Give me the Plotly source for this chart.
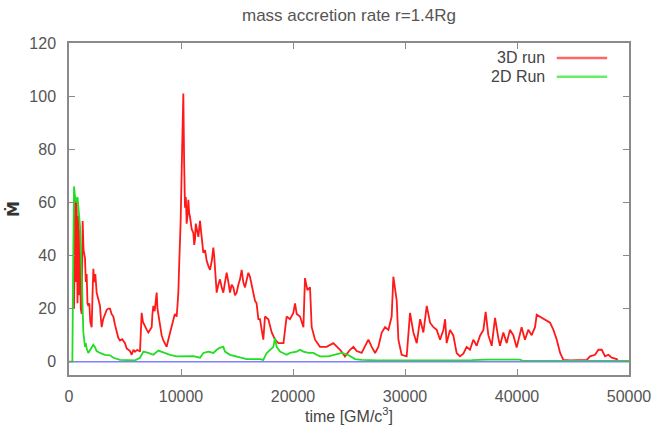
import plotly.graph_objects as go

# ---- data ----
red_t = [450, 500, 540, 600, 685, 760, 833, 900, 980, 1050, 1131, 1220, 1300, 1429, 1500, 1577, 1650, 1726,
         1815, 1900, 2024, 2100, 2173, 2250, 2350, 2470, 2600, 2768, 2850, 2917, 3050, 3200, 3363, 3500,
         3661, 3800, 3958, 4100, 4256, 4400, 4554, 4750, 5000, 5150, 5298, 5450, 5596, 5750, 5893, 6100,
         6340, 6420, 6488, 6600, 6786, 6950, 7084, 7250, 7381, 7450, 7530, 7650, 7827, 7900, 7976, 8050,
         8125, 8270, 8423, 8550, 8720, 8850, 9018, 9150, 9316, 9450, 9613, 9700, 9762, 9850, 9970, 10100,
         10208, 10280, 10357, 10430, 10506, 10580, 10655, 10730, 10804, 10950, 11101, 11180, 11250, 11320,
         11399, 11550, 11696, 11770, 11845, 11920, 11994, 12150, 12292, 12450, 12589, 12750, 12887, 12960,
         13036, 13110, 13185, 13330, 13482, 13630, 13780, 13930, 14077, 14230, 14375, 14520, 14673, 14820,
         14970, 15120, 15268, 15417, 15560, 15714, 15860, 16012, 16160, 16310, 16450, 16607, 16750, 16905,
         17050, 17350, 17500, 17800, 18100, 18400, 18700, 19150, 19430, 19730, 20030, 20180, 20330, 20630,
         20930, 21070, 21280, 21520, 21670, 21970, 22410, 23000, 23600, 23900, 24200, 24640, 25090, 25390,
         25690, 26130, 26430, 26730, 27030, 27330, 27620, 27920, 28220, 28520, 28810, 28960, 29260, 29410,
         29700, 30150, 30450, 30750, 31050, 31350, 31640, 31940, 32240, 32540, 32830, 33130, 33430, 33580,
         33720, 34020, 34320, 34610, 34910, 35210, 35500, 35800, 36100, 36400, 36700, 37000, 37200, 37440,
         37740, 38040, 38330, 38480, 38780, 39080, 39370, 39670, 39970, 40410, 40710, 41010, 41310, 41610,
         41760, 42050, 42500, 42950, 43250, 43550, 43850, 44140, 44740, 45630, 46230, 46520, 46970, 47270,
         47570, 47860, 48160, 48460, 48900, 49060]
red_v = [20, 45, 62, 30, 60, 22, 55, 25, 50, 20, 18, 53, 42, 39, 30, 33, 22, 21,
         22, 15, 13, 25, 35, 30, 33, 26, 24, 21, 16, 13, 16, 18, 19.5, 20,
         20, 18, 17, 14, 11, 9, 8, 8.5, 7, 5, 4.5, 4, 2.6, 4.5, 3.8, 4.5,
         3.8, 10, 18.4, 15, 13, 12, 11, 12, 13, 18, 21, 19, 26, 20, 18, 16,
         13, 10, 8, 7, 5.6, 8, 11, 14, 15.8, 18, 17, 22, 26, 38, 53, 80,
         101, 75, 58, 62, 52, 55, 61, 56, 54.5, 50, 48.5, 44, 46, 52,
         50, 47, 53, 50, 48.5, 44, 41, 42, 38, 36, 34.6, 38, 43, 40,
         34.6, 30, 26, 29, 31, 28, 26, 30, 33.5, 30, 26, 29, 28, 25,
         26, 29, 31, 34.6, 30, 28, 31, 33.5, 32, 29, 26, 23, 22, 16,
         16, 8.3, 17, 16, 11, 8.3, 7, 7, 17, 16, 18.4, 22, 18, 17,
         13, 31.5, 27, 28, 13, 8.3, 5.6, 5.6, 7, 5.6, 4.5, 2, 4.5, 5.6,
         4, 3.3, 5.6, 8.3, 5.6, 3.3, 5.6, 11, 13, 12, 17, 32, 23, 8.3,
         2.6, 2, 18.4, 11, 7, 16, 11, 21, 14.7, 13, 12, 8.3, 12, 16,
         7, 12, 9.8, 3.3, 2, 3, 5.6, 4.5, 8.3, 6, 9.8, 12, 18.8, 10,
         6, 16.5, 9, 6, 11, 7, 12, 10, 5.3, 13, 8.3, 12, 10, 13,
         17.7, 17, 16, 14.7, 12, 8.3, 3.3, 0.7, 0.5, 0.5, 0.7, 2, 2.6, 4.5,
         4.5, 2, 2.6, 1.5, 1, 0]

green_t = [0, 300, 380, 450, 540, 650, 760, 833, 983, 1130, 1280, 1430, 1500, 1580, 1726, 1900, 2024,
           2173, 2320, 2470, 2768, 3200, 3660, 3960, 4550, 5000, 5900, 6340, 6640, 7080, 7530, 7980,
           8420, 9020, 9610, 10200, 11100, 11700, 12000, 12440, 12890, 13190, 13480, 13780, 13930,
           14380, 14970, 15860, 17050, 17350, 17650, 17950, 18250, 18390, 18540, 18840, 19140, 19430,
           19730, 20330, 20630, 20930, 21370, 21820, 22110, 22410, 23160, 23750, 24350, 24940, 25540,
           26130, 27500, 30000, 33000, 36000, 37400, 40270, 40500, 50000]
green_v = [0, 0, 40, 66, 62, 60, 62, 58, 51, 33, 11, 5.6, 7, 5, 3.3, 4.5, 5.3,
           6.4, 5.5, 4, 3.3, 2.6, 2.4, 1.5, 0.7, 0.6, 0.5, 1.5, 3.8, 3.3, 2.6, 4.2,
           3.5, 2.6, 2, 2, 2.1, 1.5, 3.3, 3.8, 3.3, 4.5, 5.3, 5.6, 3.8,
           2.6, 2, 1, 1, 0.7, 3.3, 4.5, 5.6, 9, 5.6, 3.8, 3.3, 2.6,
           3.3, 3.8, 4.5, 3.8, 3.3, 3.3, 2.6, 2, 2, 2.6, 3.3, 2.5, 1,
           0.7, 0.5, 0.5, 0.5, 0.6, 0.8, 0.8, 0.3, 0.3]

blue_t = [0, 50000]
blue_v = [0, 0]

x_ticks = [0, 10000, 20000, 30000, 40000, 50000]
y_ticks = [0, 20, 40, 60, 80, 100, 120]

FONT = "Liberation Sans, Arial, sans-serif"
AXIS_COL = "#8a8a8a"
TXT_COL = "#555555"

fig = go.Figure()
fig.add_trace(go.Scatter(x=red_t, y=red_v, mode="lines", name="3D run",
                         line=dict(color="#ff1a1a", width=1.8), showlegend=False))
fig.add_trace(go.Scatter(x=green_t, y=green_v, mode="lines", name="2D Run",
                         line=dict(color="#22dd22", width=1.8), showlegend=False))
fig.add_trace(go.Scatter(x=blue_t, y=blue_v, mode="lines", name="zero",
                         line=dict(color="#7f7fff", width=1.5), showlegend=False))

# custom legend (gnuplot style: text left, sample right)
legend_items = [("3D run", "#ff6666", 0.955), ("2D Run", "#66ee66", 0.898)]
for label, col, yy in legend_items:
    fig.add_annotation(x=0.854, y=yy, xref="paper", yref="paper", text=label, showarrow=False,
                       xanchor="right", yanchor="middle", font=dict(family=FONT, size=16, color="#444444"))
    fig.add_shape(type="line", xref="paper", yref="paper", x0=0.871, x1=0.961, y0=yy, y1=yy,
                  line=dict(color=col, width=2.5))

fig.update_layout(
    width=659, height=434,
    margin=dict(l=69, r=30, t=43, b=59, autoexpand=False),
    paper_bgcolor="white", plot_bgcolor="white",
    title=dict(text="mass accretion rate r=1.4Rg", x=0.5, xref="paper", xanchor="center",
               y=1 - 15 / 434, yanchor="middle", font=dict(family=FONT, size=17, color=TXT_COL)),
    font=dict(family=FONT, color=TXT_COL),
)
fig.update_xaxes(range=[0, 50000], tickvals=x_ticks, ticktext=[str(v) for v in x_ticks],
                 showgrid=False, zeroline=False, showline=True, linecolor=AXIS_COL, linewidth=1.5,
                 mirror="ticks", ticks="inside", ticklen=6, tickcolor=AXIS_COL, tickwidth=1,
                 automargin=False,
                 tickfont=dict(family=FONT, size=16, color=TXT_COL), ticklabelstandoff=6,
                 title=dict(text="time [GM/c<sup>3</sup>]", font=dict(family=FONT, size=16, color="#444444"),
                            standoff=6))
fig.update_yaxes(range=[-5, 120], tickvals=y_ticks, ticktext=[str(v) for v in y_ticks],
                 showgrid=False, zeroline=False, showline=True, linecolor=AXIS_COL, linewidth=1.5,
                 mirror="ticks", ticks="inside", ticklen=6, tickcolor=AXIS_COL, tickwidth=1,
                 automargin=False,
                 tickfont=dict(family=FONT, size=16, color=TXT_COL), ticklabelstandoff=8,
                 title=dict(text="<b>\u1E40</b>", font=dict(family="DejaVu Sans, sans-serif", size=16,
                                                            color="#333333"), standoff=6))

fig.write_html("out.html")
